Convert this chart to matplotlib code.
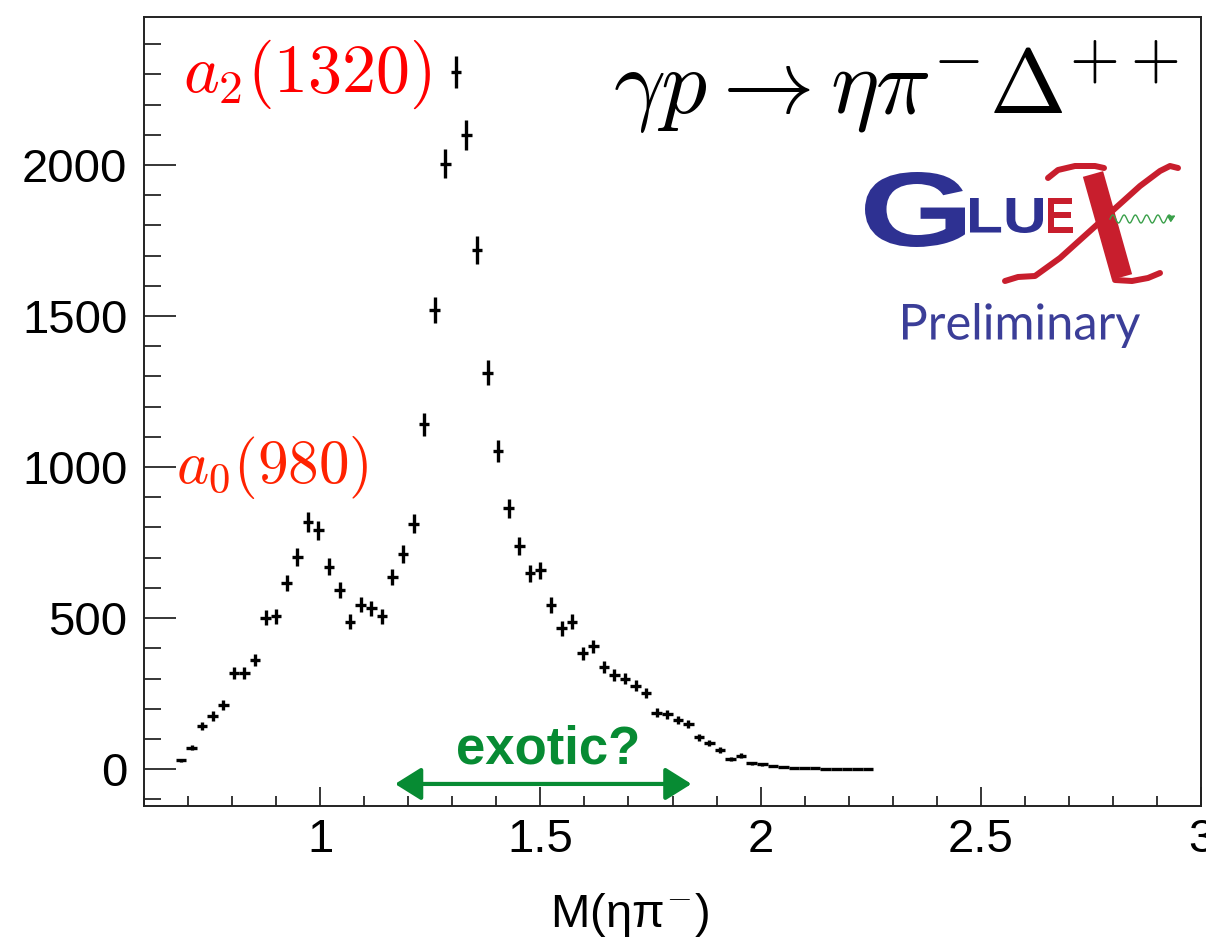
import numpy as np
import matplotlib
matplotlib.use("Agg")
import matplotlib.pyplot as plt
from matplotlib.textpath import TextPath
from matplotlib.patches import PathPatch
from matplotlib.font_manager import FontProperties
from matplotlib.transforms import Affine2D
from matplotlib.ticker import MultipleLocator

plt.rcParams['mathtext.fontset'] = 'cm'
plt.rcParams['font.family'] = ['Liberation Sans', 'DejaVu Sans']

# ---------------- data ----------------
# histogram: 100 bins from 0.6 to 3.0 (bin width 0.024); first filled bin index 3
x_min, x_max, n_bins = 0.6, 3.0, 100
first_bin = 3
counts = [29, 71, 144, 176, 213, 317, 317, 361, 502, 506, 617, 703, 818, 791,
          670, 592, 488, 545, 532, 506, 636, 712, 813, 1141, 1520, 2005, 2309,
          2099, 1718, 1313, 1053, 863, 738, 648, 659, 543, 466, 488, 383, 407,
          339, 311, 300, 276, 252, 186, 181, 162, 149, 105, 87, 63, 34, 45, 19,
          16, 10, 7, 5, 4, 3, 2, 2, 2, 1, 1]
errors = [6, 9, 13, 15, 16, 20, 20, 21, 25, 25, 27, 29, 32, 31,
          28, 27, 24, 26, 25, 25, 28, 29, 31, 37, 43, 49, 53,
          50, 46, 40, 36, 32, 30, 28, 28, 26, 24, 24, 22, 22,
          20, 19, 19, 18, 17, 15, 15, 14, 13, 11, 10, 9, 6, 7, 5,
          4, 3, 3, 2, 2, 2, 1, 1, 1, 1, 1]
x_ticks = [1, 1.5, 2, 2.5, 3]
x_ticklabels = ["1", "1.5", "2", "2.5", "3"]
y_ticks = [0, 500, 1000, 1500, 2000]
y_ticklabels = ["0", "500", "1000", "1500", "2000"]

edges = np.linspace(x_min, x_max, n_bins + 1)
centers_all = 0.5 * (edges[:-1] + edges[1:])
bw = edges[1] - edges[0]
centers = centers_all[first_bin:first_bin + len(counts)]

W, H = 1206, 941
fig = plt.figure(figsize=(W / 100, H / 100), dpi=100)
ax = fig.add_axes([144 / W, 1 - 805.7 / H, 1057 / W, (805.7 - 16.7) / H])

ax.errorbar(centers, counts, xerr=bw / 2, yerr=errors, fmt='none',
            ecolor='black', elinewidth=2.4, capsize=0)

ax.set_xlim(x_min, x_max)
ax.set_ylim(-121, 2491)
ax.set_xticks(x_ticks)
ax.set_xticklabels(x_ticklabels)
ax.set_yticks(y_ticks)
ax.set_yticklabels(y_ticklabels)
ax.xaxis.set_minor_locator(MultipleLocator(0.1))
ax.yaxis.set_minor_locator(MultipleLocator(100))
ax.tick_params(axis='x', which='major', direction='in', length=13.7, width=1.1,
               labelsize=34, pad=9, top=False)
ax.tick_params(axis='x', which='minor', direction='in', length=7.2, width=1.1, top=False)
ax.tick_params(axis='y', which='major', direction='in', length=23, width=1.1,
               labelsize=34, pad=12, right=False)
ax.tick_params(axis='y', which='minor', direction='in', length=12, width=1.1, right=False)
for s in ax.spines.values():
    s.set_linewidth(1.4)
    s.set_color('#222222')

fig.text(630 / W, 1 - 927 / H, r"M(ηπ$^{-}$)", fontsize=34, ha='center', va='baseline')

# annotations (data coordinates)
ax.text(0.689, 2242, r"$a_2(1320)$", color='#ff0000', fontsize=49, va='baseline', ha='left')
ax.text(0.673, 947, r"$a_0(980)$", color='#ff2200', fontsize=44, va='baseline', ha='left')
ax.text(1.665, 2169, r"$\gamma p \rightarrow \eta\pi^{-}\Delta^{++}$", color='black',
        fontsize=66, va='baseline', ha='left')

green = '#078b33'
ax.text(1.5185, 20, "exotic?", color=green, fontsize=38, fontweight='bold',
        family=['Liberation Sans Narrow', 'Liberation Sans'], ha='center', va='baseline')
ax.annotate('', xy=(1.170, -49), xytext=(1.843, -49),
            arrowprops=dict(arrowstyle='<|-|>,head_length=16,head_width=10',
                            mutation_scale=1, color=green, lw=3,
                            shrinkA=0, shrinkB=0))

# ---------------- GlueX logo (pixel-coordinate overlay) ----------------
ov = fig.add_axes([0, 0, 1, 1], zorder=5)
ov.set_xlim(0, W)
ov.set_ylim(H, 0)
ov.axis('off')
ov.patch.set_alpha(0)


def stretched(s, x0, x1, ytop, ybot, prop, color):
    tp = TextPath((0, 0), s, size=100, prop=prop)
    bb = tp.get_extents()
    tr = (Affine2D().translate(-bb.x0, -bb.y0)
          .scale((x1 - x0) / bb.width, -(ybot - ytop) / bb.height)
          .translate(x0, ybot))
    ov.add_patch(PathPatch(tr.transform_path(tp), facecolor=color, edgecolor='none'))


blue = '#2e3192'
red = '#c81e2d'
bold = FontProperties(family='Liberation Sans', weight='bold')
stretched("G", 865, 965, 172, 247, bold, blue)
stretched("LU", 970, 1043, 198, 233, bold, blue)
stretched("E", 1048, 1073, 198, 233, bold, red)
stretched("Preliminary", 903, 1140, 303, 348, FontProperties(family='Lato'), '#3b3e98')

px = 1 / 1.389  # px -> pt
# thin stroke of X (bottom-left to top-right)
ov.plot([1005, 1018, 1035, 1060, 1100, 1140, 1160, 1170, 1178],
        [281, 277, 276, 258, 222, 186, 171, 166, 168], color=red, lw=6 * px,
        solid_capstyle='round')
# thick stroke of X
ov.plot([1093, 1122], [174, 277], color=red, lw=21 * px, solid_capstyle='butt')
# top swash
ov.plot([1048, 1058, 1075, 1095, 1104], [178, 170, 166, 166, 168], color=red, lw=6 * px,
        solid_capstyle='round')
# bottom foot
ov.plot([1115, 1132, 1148, 1160], [280, 281, 278, 273], color=red, lw=6 * px,
        solid_capstyle='round')
# green wiggle
wx = np.linspace(1110, 1172, 200)
ov.plot(wx, 219 - 4 * np.sin((wx - 1110) / 62 * 2 * np.pi * 5.5), color='#3aa04a', lw=1.0)
ov.annotate('', xy=(1178, 214), xytext=(1171, 218),
            arrowprops=dict(arrowstyle='-|>,head_length=4,head_width=2',
                            mutation_scale=1, color='#3aa04a', lw=1))

fig.savefig("out.png", dpi=100)
